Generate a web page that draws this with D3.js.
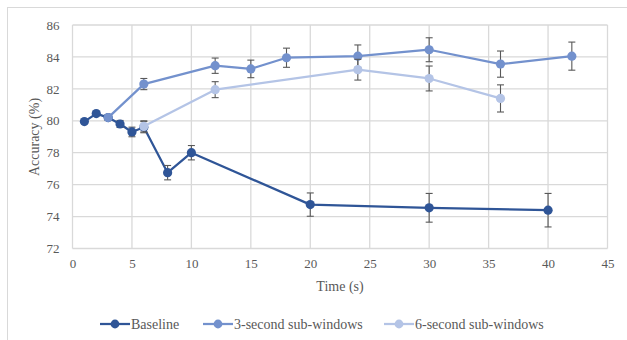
<!DOCTYPE html>
<html>
<head>
<meta charset="utf-8">
<script src="https://cdn.jsdelivr.net/npm/d3@7"></script>
<style>
  body { margin: 0; background: #fff; }
  svg { display: block; font-family: "Liberation Serif", "Times New Roman", serif; }
</style>
</head>
<body>
<div id="chart"></div>
<script>
// values
const baseTime = [1, 2, 3, 4, 5, 6, 8, 10, 20, 30, 40];
const baseAcc  = [79.95, 80.45, 80.2, 79.8, 79.3, 79.6, 76.75, 78.0, 74.75, 74.55, 74.4];
const baseErr  = [0.05, 0.12, 0.15, 0.22, 0.3, 0.35, 0.45, 0.45, 0.73, 0.9, 1.05];

const sub3Time = [3, 6, 12, 15, 18, 24, 30, 36, 42];
const sub3Acc  = [80.2, 82.3, 83.45, 83.25, 83.95, 84.05, 84.45, 83.55, 84.05];
const sub3Err  = [0.15, 0.35, 0.48, 0.55, 0.6, 0.7, 0.75, 0.82, 0.88];

const sub6Time = [6, 12, 24, 30, 36];
const sub6Acc  = [79.65, 81.95, 83.2, 82.65, 81.4];
const sub6Err  = [0.35, 0.5, 0.65, 0.78, 0.85];

const seriesNames = ["Baseline", "3-second sub-windows", "6-second sub-windows"];
const xTicks = [0, 5, 10, 15, 20, 25, 30, 35, 40, 45];
const yTicks = [72, 74, 76, 78, 80, 82, 84, 86];

const colors = ["#2f5597", "#7391cd", "#b4c4e6"];
const width = 627, height = 340;

const svg = d3.select("#chart").append("svg")
  .attr("width", width).attr("height", height);

// outer chart frame
svg.append("rect")
  .attr("x", 7.5).attr("y", 7.5)
  .attr("width", 640).attr("height", 360)
  .attr("fill", "none").attr("stroke", "#d9d9d9");

const x = d3.scaleLinear().domain([0, 45]).range([72.5, 607.5]);
const y = d3.scaleLinear().domain([72, 86]).range([248.5, 25]);

// gridlines
svg.append("g").selectAll("line").data(yTicks).join("line")
  .attr("x1", x(0)).attr("x2", x(45))
  .attr("y1", d => y(d)).attr("y2", d => y(d))
  .attr("stroke", "#d9d9d9").attr("stroke-width", 1.3);
svg.append("g").selectAll("line").data(xTicks).join("line")
  .attr("y1", y(72)).attr("y2", y(86))
  .attr("x1", d => x(d)).attr("x2", d => x(d))
  .attr("stroke", "#d9d9d9").attr("stroke-width", 1.3);

// axes with only labels
const xAxis = svg.append("g")
  .attr("transform", `translate(0,${y(72)})`)
  .call(d3.axisBottom(x).tickValues(xTicks).tickSize(0).tickPadding(10));
const yAxis = svg.append("g")
  .attr("transform", `translate(${x(0)},0)`)
  .call(d3.axisLeft(y).tickValues(yTicks).tickSize(0).tickPadding(13));
[xAxis, yAxis].forEach(g => {
  g.select(".domain").remove();
  g.selectAll("text")
    .attr("fill", "#595959")
    .style("font-size", "13px")
    .style("font-family", "Liberation Serif, serif");
});

svg.append("text")
  .attr("x", 340).attr("y", 291)
  .attr("text-anchor", "middle")
  .attr("fill", "#595959").style("font-size", "14px")
  .text("Time (s)");
svg.append("text")
  .attr("transform", "translate(39,137) rotate(-90)")
  .attr("text-anchor", "middle")
  .attr("fill", "#595959").style("font-size", "14px")
  .text("Accuracy (%)");

const allSeries = [
  { t: baseTime, a: baseAcc, e: baseErr },
  { t: sub3Time, a: sub3Acc, e: sub3Err },
  { t: sub6Time, a: sub6Acc, e: sub6Err }
].map((s, i) => ({
  name: seriesNames[i],
  color: colors[i],
  pts: s.t.map((t, j) => ({ t: t, a: s.a[j], e: s.e[j] }))
}));

const line = d3.line().x(d => x(d.t)).y(d => y(d.a));

allSeries.forEach(s => {
  const g = svg.append("g");
  g.append("path")
    .datum(s.pts)
    .attr("d", line)
    .attr("fill", "none")
    .attr("stroke", s.color)
    .attr("stroke-width", 2.25)
    .attr("stroke-linejoin", "round");

  // error bars
  const eb = g.append("g").attr("stroke", "#595959").attr("stroke-width", 1.1);
  eb.selectAll(".v").data(s.pts).join("line")
    .attr("x1", d => x(d.t)).attr("x2", d => x(d.t))
    .attr("y1", d => y(d.a - d.e)).attr("y2", d => y(d.a + d.e));
  eb.selectAll(".top").data(s.pts).join("line")
    .attr("x1", d => x(d.t) - 3.5).attr("x2", d => x(d.t) + 3.5)
    .attr("y1", d => y(d.a + d.e)).attr("y2", d => y(d.a + d.e));
  eb.selectAll(".bot").data(s.pts).join("line")
    .attr("x1", d => x(d.t) - 3.5).attr("x2", d => x(d.t) + 3.5)
    .attr("y1", d => y(d.a - d.e)).attr("y2", d => y(d.a - d.e));

  g.selectAll("circle").data(s.pts).join("circle")
    .attr("cx", d => x(d.t)).attr("cy", d => y(d.a))
    .attr("r", 4.6)
    .attr("fill", s.color);
});

// legend
const legendX = [100, 203, 384];
const legend = svg.append("g");
allSeries.forEach((s, i) => {
  const lg = legend.append("g").attr("transform", `translate(${legendX[i]},324)`);
  lg.append("line").attr("x1", 0).attr("x2", 30)
    .attr("stroke", s.color).attr("stroke-width", 2.25);
  lg.append("circle").attr("cx", 15).attr("r", 4.4).attr("fill", s.color);
  lg.append("text").attr("x", 31).attr("y", 4.5)
    .attr("fill", "#595959").style("font-size", "14px")
    .text(s.name);
});
</script>
</body>
</html>
